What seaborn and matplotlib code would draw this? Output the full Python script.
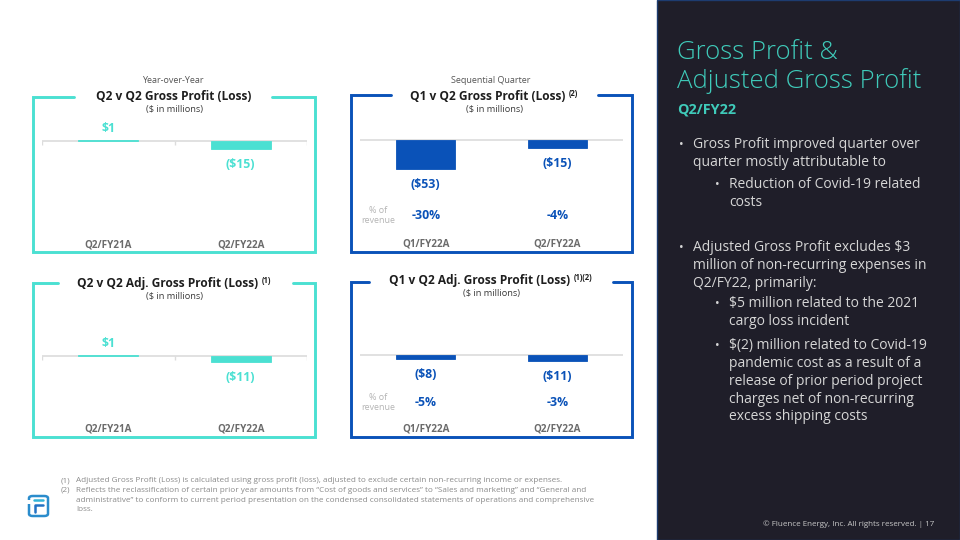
import matplotlib
matplotlib.use('Agg')
import matplotlib.pyplot as plt
import matplotlib.transforms as mtransforms
from matplotlib.lines import Line2D
from matplotlib.patches import Rectangle, FancyBboxPatch
import seaborn as sns
import pandas as pd

# chart values, $ in millions
yoy_periods = ['Q2/FY21A', 'Q2/FY22A']
yoy_gross_profit = [1, -15]
yoy_adj_gross_profit = [1, -11]

seq_periods = ['Q1/FY22A', 'Q2/FY22A']
seq_gross_profit = [-53, -15]
seq_gross_pct = [-30, -4]
seq_adj_gross_profit = [-8, -11]
seq_adj_pct = [-5, -3]

TEAL = '#4be0d2'
BLUE = '#0a52b8'
CAT_GRAY = '#6b6b6b'
W, H = 960, 540
PX_PER_M = 0.55

sns.set_style('white')
plt.rcParams['font.family'] = ['Open Sans', 'DejaVu Sans']
plt.rcParams['text.parse_math'] = False

fig = plt.figure(figsize=(9.6, 5.4), dpi=100)
renderer = fig.canvas.get_renderer()


def fx(px):
    return px / W


def fy(py):
    return 1 - py / H


def ty(py):
    # text centres sit a bit high in Open Sans, nudge down
    return fy(py + 1.8)


def money(v):
    return f'${v}' if v >= 0 else f'(${-v})'


def draw_chart(periods, values, color, x0, x1, base, cat_y, pct=None, pct_y=None, ticks=False):
    top, bottom = base - 50, base + 110
    ax = fig.add_axes([fx(x0), fy(bottom), (x1 - x0) / W, (bottom - top) / H])
    df = pd.DataFrame({'period': periods, 'value': values})
    sns.barplot(data=df, x='period', y='value', color=color, saturation=1, width=0.45, ax=ax,
                zorder=2, linewidth=0.6, edgecolor=color)
    ax.set_xlim(-0.5, 1.5)
    ax.set_ylim(-(bottom - base) / PX_PER_M, (base - top) / PX_PER_M)
    ax.axis('off')
    ax.axhline(0, color='#dcdcdc', lw=1.2, zorder=1)
    if ticks:
        ax.vlines([-0.5, 0.5, 1.5], -4 / PX_PER_M, 0, color='#dcdcdc', lw=1)
    for i, v in enumerate(values):
        ax.annotate(money(v), (i, v), xytext=(0, 8.4 if v >= 0 else -11.0), textcoords='offset points',
                    ha='center', va='center', color=color, fontsize=8.8, fontweight='bold')
    trans = mtransforms.blended_transform_factory(ax.transData, fig.transFigure)
    for i, p in enumerate(periods):
        ax.text(i, ty(cat_y), p, transform=trans, ha='center', va='center',
                fontsize=7.1, fontweight='bold', color=CAT_GRAY)
    if pct is not None:
        for i, v in enumerate(pct):
            ax.text(i, ty(pct_y), f'{v}%', transform=trans, ha='center', va='center',
                    fontsize=8.8, fontweight='bold', color=color)
        fig.text(fx(378), ty(pct_y), '% of\nrevenue', ha='center', va='center',
                 fontsize=6.4, color='#b4b4b4', linespacing=1.1)
    return ax


def frame(l, r, t, b, gl, gr, color):
    xs = [gl, l, l, r, r, gr]
    ys = [t, t, b, b, t, t]
    fig.add_artist(Line2D([fx(x) for x in xs], [fy(y) for y in ys], color=color, lw=2.1,
                          solid_joinstyle='miter', transform=fig.transFigure))


def title(cx, y, text, sup=None):
    t = fig.text(fx(cx), ty(y), text, ha='center', va='center', fontsize=8.6,
                 fontweight='bold', color='#1e1e1e')
    if sup:
        bb = t.get_window_extent(renderer)
        fig.text(bb.x1 / W + 3 / W, ty(y - 3), sup, ha='left', va='center', fontsize=5.5,
                 fontweight='bold', color='#1e1e1e')


def subtitle(cx, y, text, size=6.7, color='#3a3a3a'):
    fig.text(fx(cx), ty(y), text, ha='center', va='center', fontsize=size, color=color)


# top left: year over year gross profit
frame(33, 315, 97, 252, 74, 272, TEAL)
subtitle(173, 79, 'Year-over-Year', 6.5, '#555555')
title(174, 95, 'Q2 v Q2 Gross Profit (Loss)')
subtitle(174, 108, '($ in millions)')
draw_chart(yoy_periods, yoy_gross_profit, TEAL, 42, 307, 141, 243, ticks=True)

# top right: sequential gross profit
frame(351, 632, 95, 252, 391, 598, BLUE)
subtitle(491, 79, 'Sequential Quarter', 6.5, '#555555')
title(488, 95, 'Q1 v Q2 Gross Profit (Loss)', '(2)')
subtitle(495, 108, '($ in millions)')
draw_chart(seq_periods, seq_gross_profit, BLUE, 360, 623, 140, 242, seq_gross_pct, 214)

# bottom left: year over year adjusted gross profit
frame(33, 315, 283, 437, 58, 293, TEAL)
title(168, 282, 'Q2 v Q2 Adj. Gross Profit (Loss)', '(1)')
subtitle(175, 295, '($ in millions)')
draw_chart(yoy_periods, yoy_adj_gross_profit, TEAL, 42, 307, 356, 427, ticks=True)

# bottom right: sequential adjusted gross profit
frame(351, 632, 282, 437, 369, 613, BLUE)
title(480, 279, 'Q1 v Q2 Adj. Gross Profit (Loss)', '(1)(2)')
subtitle(492, 292, '($ in millions)')
draw_chart(seq_periods, seq_adj_gross_profit, BLUE, 360, 623, 355, 427, seq_adj_pct, 401)

# footnotes
notes = [
    ('(1)', ['Adjusted Gross Profit (Loss) is calculated using gross profit (loss), adjusted to exclude certain non-recurring income or expenses.']),
    ('(2)', ['Reflects the reclassification of certain prior year amounts from \u201cCost of goods and services\u201d to \u201cSales and marketing\u201d and \u201cGeneral and',
             'administrative\u201d to conform to current period presentation on the condensed consolidated statements of operations and comprehensive',
             'loss.']),
]
ny = 479
for num, lines in notes:
    fig.text(fx(61), ty(ny), num, va='center', fontsize=5.9, color='#8a8a8a')
    for line in lines:
        fig.text(fx(76), ty(ny), line, va='center', fontsize=5.9, color='#8a8a8a')
        ny += 9.6

# logo
fig.add_artist(FancyBboxPatch((fx(29), fy(516)), 19 / W, 20 / H, boxstyle='round,pad=0,rounding_size=0.004',
                              fc='none', ec='#2a8ccc', lw=1.8, transform=fig.transFigure))
fig.add_artist(Rectangle((fx(26), fy(504)), 6 / W, 4 / H, fc='white', ec='none', transform=fig.transFigure))
fig.add_artist(Line2D([fx(34), fx(43)], [fy(500), fy(500)], color='#33b4d8', lw=1.8, transform=fig.transFigure))
fig.add_artist(Line2D([fx(35), fx(35), fx(43)], [fy(512), fy(505), fy(505)], color='#2272c4', lw=1.8,
                      transform=fig.transFigure))

# right panel
fig.add_artist(Rectangle((fx(657), 0), (W - 657) / W, 1, fc='#1f1e29', ec='#1d3c70', lw=1,
                         transform=fig.transFigure))
TITLE_TEAL = '#3fcbba'
fig.text(fx(677), ty(51), 'Gross Profit &', va='center', fontsize=18.5, fontweight='light', color=TITLE_TEAL)
fig.text(fx(677), ty(79), 'Adjusted Gross Profit', va='center', fontsize=18.5, fontweight='light', color=TITLE_TEAL)
fig.text(fx(677), ty(108), 'Q2/FY22', va='center', fontsize=10.4, fontweight='bold', color=TITLE_TEAL)

bullets = [
    (0, 143, ['Gross Profit improved quarter over', 'quarter mostly attributable to']),
    (1, 183, ['Reduction of Covid-19 related', 'costs']),
    (0, 246, ['Adjusted Gross Profit excludes $3', 'million of non-recurring expenses in', 'Q2/FY22, primarily:']),
    (1, 302, ['$5 million related to the 2021', 'cargo loss incident']),
    (1, 344, ['$(2) million related to Covid-19', 'pandemic cost as a result of a',
              'release of prior period project', 'charges net of non-recurring', 'excess shipping costs']),
]
for level, y, lines in bullets:
    bx, tx = (679, 693) if level == 0 else (715, 729)
    fig.text(fx(bx), ty(y), '\u2022', va='center', fontsize=9, color='#d6d6d6')
    for k, line in enumerate(lines):
        fig.text(fx(tx), ty(y + k * 17.8), line, va='center', fontsize=10, color='#d6d6d6')

fig.text(fx(934), ty(522), '\u00a9 Fluence Energy, Inc. All rights reserved. | 17', ha='right', va='center',
         fontsize=5.8, color='#c8c8c8')

fig.savefig('out.png', dpi=100)
